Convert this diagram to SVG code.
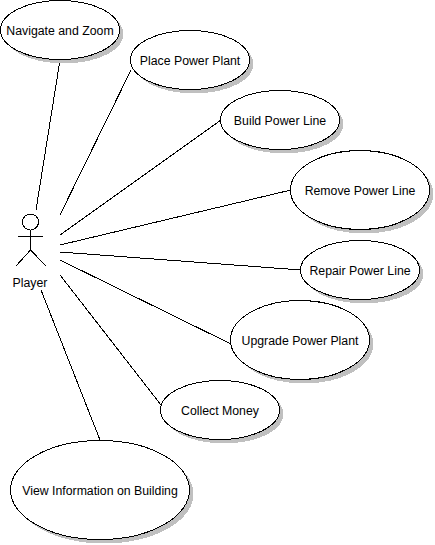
<svg xmlns="http://www.w3.org/2000/svg" width="435" height="545" viewBox="0 0 435 545">
<style>
.s{fill:#c0c0c0;stroke:none;shape-rendering:crispEdges}
.e{fill:#fff;stroke:#000;stroke-width:1;shape-rendering:crispEdges}
.t{font-family:"Liberation Sans",Arial,sans-serif;font-size:12.3px;fill:#000;text-anchor:middle}
.l{stroke:#000;stroke-width:1;fill:none;shape-rendering:crispEdges}
</style>
<rect width="435" height="545" fill="#fff"/>
<g id="connectors" class="l">
<line x1="60" y1="60" x2="36" y2="210"/>
<line x1="131" y1="70" x2="60" y2="215"/>
<line x1="221" y1="120" x2="60" y2="235"/>
<line x1="291" y1="190" x2="60" y2="245"/>
<line x1="301" y1="270" x2="60" y2="252"/>
<line x1="231" y1="344" x2="60" y2="260"/>
<line x1="161" y1="405" x2="60" y2="275"/>
<line x1="100" y1="440" x2="41" y2="290"/>
</g>
<g id="player">
<g class="l"><circle cx="30.500" cy="222" r="8"/><path d="M30.500 230V250M18 236.500H43M30.500 250L16 266M30.500 250L46 266"/></g>
<text class="t" x="30" y="287">Player</text>
</g>
<g id="navigate"><ellipse class="s" cx="64" cy="34" rx="59.500" ry="29.500"/><ellipse class="e" cx="60" cy="30" rx="59.500" ry="29.500"/><text class="t" x="60" y="35">Navigate and Zoom</text></g>
<g id="place"><ellipse class="s" cx="194" cy="64" rx="59.500" ry="29.500"/><ellipse class="e" cx="190" cy="60" rx="59.500" ry="29.500"/><text class="t" x="190" y="65">Place Power Plant</text></g>
<g id="build"><ellipse class="s" cx="284" cy="124" rx="59.500" ry="29.500"/><ellipse class="e" cx="280" cy="120" rx="59.500" ry="29.500"/><text class="t" x="280" y="125">Build Power Line</text></g>
<g id="remove"><ellipse class="s" cx="364" cy="194" rx="69.500" ry="39.500"/><ellipse class="e" cx="360" cy="190" rx="69.500" ry="39.500"/><text class="t" x="360" y="195">Remove Power Line</text></g>
<g id="repair"><ellipse class="s" cx="364" cy="274" rx="59.500" ry="29.500"/><ellipse class="e" cx="360" cy="270" rx="59.500" ry="29.500"/><text class="t" x="360" y="275">Repair Power Line</text></g>
<g id="upgrade"><ellipse class="s" cx="304" cy="344" rx="69.500" ry="39.500"/><ellipse class="e" cx="300" cy="340" rx="69.500" ry="39.500"/><text class="t" x="300" y="345">Upgrade Power Plant</text></g>
<g id="collect"><ellipse class="s" cx="224" cy="414" rx="59.500" ry="29.500"/><ellipse class="e" cx="220" cy="410" rx="59.500" ry="29.500"/><text class="t" x="220" y="415">Collect Money</text></g>
<g id="view"><ellipse class="s" cx="104" cy="494" rx="89.500" ry="49.500"/><ellipse class="e" cx="100" cy="490" rx="89.500" ry="49.500"/><text class="t" x="100" y="495">View Information on Building</text></g>
</svg>
